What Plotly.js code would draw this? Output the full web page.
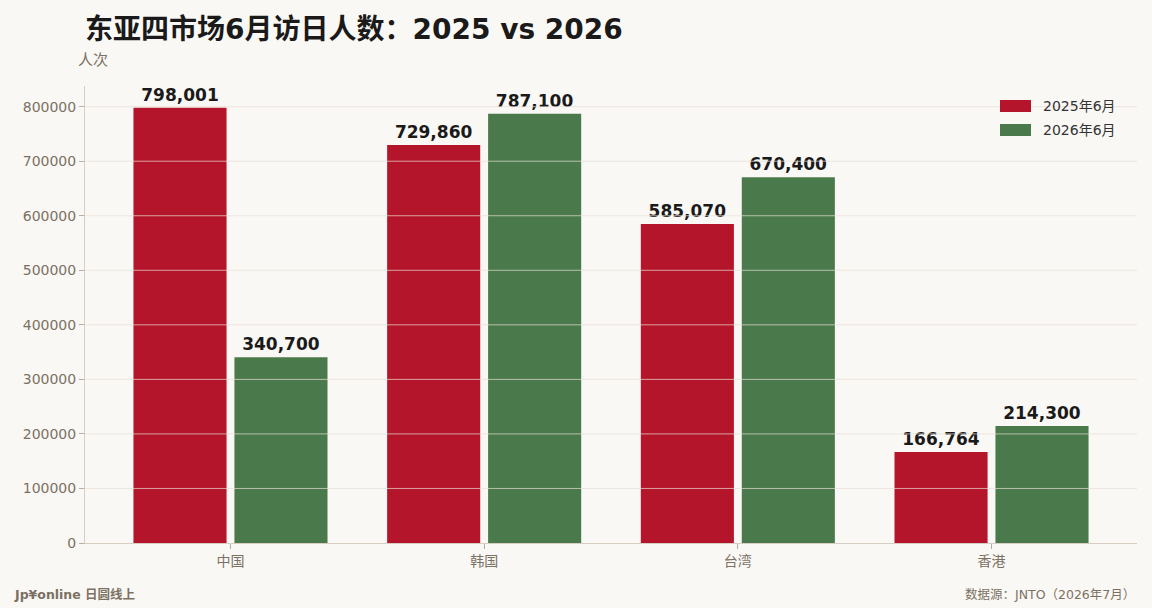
<!DOCTYPE html>
<html>
<head>
<meta charset="utf-8">
<script src="https://cdn.plot.ly/plotly-3.0.1.min.js"></script>
<style>
  html, body { margin: 0; padding: 0; background: #faf8f5; }
  #chart { width: 1152px; height: 608px; }
</style>
</head>
<body>
<div id="chart"></div>
<script>
// 东亚四市场 6月访日人数
var markets = ['中国', '韩国', '台湾', '香港'];
var june2025 = [798001, 729860, 585070, 166764];
var june2026 = [340700, 787100, 670400, 214300];
var seriesNames = ['2025年6月', '2026年6月'];
var yTicks = [0, 100000, 200000, 300000, 400000, 500000, 600000, 700000, 800000];

var FONT = 'DejaVu Sans, Noto Sans CJK SC, sans-serif';
var RED = '#b5152b';
var GREEN = '#4a7a4b';
var MUTED = '#7b7163';
var PW = 1052, PH = 457;   // plot area in px, for paper coords

function fmt(v) {
  return v.toString().replace(/\B(?=(\d{3})+(?!\d))/g, ',');
}

function barTrace(name, values, color) {
  return {
    type: 'bar',
    name: name,
    x: markets,
    y: values,
    marker: { color: color, line: { width: 0 } },
    text: values.map(fmt),
    textposition: 'outside',
    textfont: { family: FONT, size: 17, color: '#1a1a1a', weight: 'bold' },
    cliponaxis: false,
    showlegend: false,
    hoverinfo: 'x+y'
  };
}

var colors = [RED, GREEN];
var traces = [
  barTrace(seriesNames[0], june2025, colors[0]),
  barTrace(seriesNames[1], june2026, colors[1])
];

var yMax = Math.max.apply(null, june2025.concat(june2026)) * 1.05;

// gridlines sit on top of the bars in the original
var shapes = yTicks.slice(1).map(function (t) {
  return {
    type: 'line', xref: 'paper', x0: 0, x1: 1, yref: 'y', y0: t, y1: t,
    layer: 'above', line: { color: 'rgba(232,222,212,0.7)', width: 1 }
  };
});

var annotations = [
  {
    text: '人次', xref: 'paper', yref: 'paper',
    x: -9 / PW, y: 1 + 26 / PH, xanchor: 'left', yanchor: 'middle',
    showarrow: false, font: { family: FONT, size: 15, color: MUTED }
  },
  {
    text: '<b>Jp¥online 日圆线上</b>', xref: 'paper', yref: 'paper',
    x: -73 / PW, y: -51 / PH, xanchor: 'left', yanchor: 'middle',
    showarrow: false, font: { family: FONT, size: 12.5, color: MUTED }
  },
  {
    text: '数据源：JNTO（2026年7月）', xref: 'paper', yref: 'paper',
    x: 1, y: -51 / PH, xanchor: 'right', yanchor: 'middle',
    showarrow: false, font: { family: FONT, size: 12.5, color: MUTED }
  }
];

// legend with wide patches, matplotlib style
seriesNames.forEach(function (name, i) {
  var cy = 1 - (20 + 24 * i) / PH;
  shapes.push({
    type: 'rect', xref: 'paper', yref: 'paper',
    x0: 915 / PW, x1: 946 / PW, y0: cy - 6 / PH, y1: cy + 6 / PH,
    fillcolor: colors[i], line: { width: 0 }, layer: 'above'
  });
  annotations.push({
    text: name, xref: 'paper', yref: 'paper',
    x: 956 / PW, y: cy, xanchor: 'left', yanchor: 'middle',
    showarrow: false, font: { family: FONT, size: 14, color: '#333' }
  });
});

var layout = {
  width: 1152,
  height: 608,
  paper_bgcolor: '#faf8f5',
  plot_bgcolor: '#faf8f5',
  font: { family: FONT, color: MUTED, size: 14 },
  margin: { l: 85, r: 15, t: 86, b: 65 },
  barmode: 'group',
  bargap: 0.204,
  bargroupgap: 0.078,
  showlegend: false,
  title: {
    text: '<b>东亚四市场6月访日人数：2025 vs 2026</b>',
    font: { family: FONT, size: 28, color: '#1a1a1a' },
    x: 85 / 1152, xanchor: 'left', xref: 'container',
    y: 1 - 29 / 608, yanchor: 'middle', yref: 'container'
  },
  xaxis: {
    range: [-0.5735, 3.5735],
    showgrid: false,
    showline: true, linecolor: '#d6cdc3', linewidth: 1,
    ticks: 'outside', ticklen: 5, tickcolor: '#b8aea3',
    tickfont: { family: FONT, size: 14, color: MUTED },
    zeroline: false
  },
  yaxis: {
    range: [0, yMax],
    tickvals: yTicks,
    ticktext: yTicks.map(String),
    showgrid: false,
    showline: true, linecolor: '#d6cdc3', linewidth: 1,
    ticks: 'outside', ticklen: 5, tickcolor: '#b8aea3',
    tickfont: { family: FONT, size: 14, color: MUTED },
    zeroline: false
  },
  shapes: shapes,
  annotations: annotations
};

Plotly.newPlot('chart', traces, layout, { displayModeBar: false, staticPlot: true });
</script>
</body>
</html>
